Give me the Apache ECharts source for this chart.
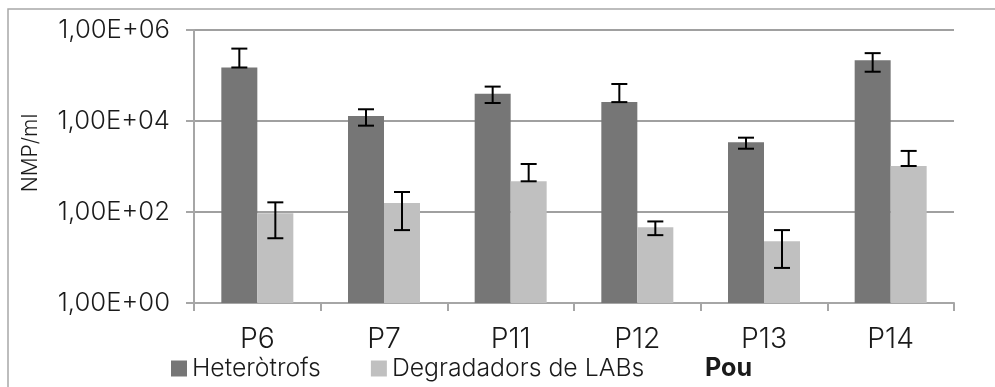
<!DOCTYPE html>
<html><head><meta charset="utf-8">
<script src="https://cdn.jsdelivr.net/npm/echarts@6/dist/echarts.min.js"></script>
<style>html,body{margin:0;padding:0;background:#fff}#c{width:995px;height:387px}</style>
</head><body><div id="c"></div>
<script>
const categories = ['P6','P7','P11','P12','P13','P14'];
const seriesNames = ['Heteròtrofs','Degradadors de LABs'];
const hetValues = [150000, 12900, 39800, 26000, 3400, 216000];
const hetErrHigh = [390000, 18100, 57000, 65000, 4300, 310000];
const hetErrLow = [150000, 7900, 24900, 26000, 2460, 121000];
const degValues = [94, 158, 473, 46, 22.7, 1025];
const degErrHigh = [163, 275, 1135, 62, 40, 2200];
const degErrLow = [26.5, 40, 473, 31, 5.9, 1025];
const yTicks = [1, 100, 10000, 1000000];
const yTickLabels = ['1,00E+00','1,00E+02','1,00E+04','1,00E+06'];
const yName = 'NMP/ml';
const xName = 'Pou';

const FONT = 'Inter';
const W = 300;
const mctx = document.createElement('canvas').getContext('2d');
function fit(text, target, weight) {
  mctx.font = weight + ' 100px "' + FONT + '"';
  return Math.round(100 * target / mctx.measureText(text).width * 10) / 10;
}
const fsY = fit('1,00E+06', 112, W);
const fsX = fit('P11', 40, W);
const fsL = fit('Degradadors de LABs', 252, W);
const fsP = fit('Pou', 47, 'bold');
const fsN = 21;
const TXT = '#1a1a1a';

const BAR_W = 36;
const chart = echarts.init(document.getElementById('c'), null, {renderer:'canvas'});

function errSeries(values, lows, highs, side) {
  return {
    type: 'custom',
    z: 10,
    silent: true,
    data: values.map((v,i)=>[i, lows[i], highs[i]]),
    renderItem: function(params, api) {
      const i = api.value(0);
      const pLo = api.coord([i, api.value(1)]);
      const pHi = api.coord([i, api.value(2)]);
      const x = pLo[0] + side * BAR_W / 2;
      const cap = 8;
      const st = {stroke:'#000', lineWidth:2};
      return {type:'group', children:[
        {type:'line', shape:{x1:x,y1:pLo[1],x2:x,y2:pHi[1]}, style:st},
        {type:'line', shape:{x1:x-cap,y1:pLo[1],x2:x+cap,y2:pLo[1]}, style:st},
        {type:'line', shape:{x1:x-cap,y1:pHi[1],x2:x+cap,y2:pHi[1]}, style:st}
      ]};
    }
  };
}

chart.setOption({
  animation:false,
  textStyle:{fontFamily:FONT, fontWeight:W},
  grid:{left:194, right:41, top:30, bottom:84},
  legend:{
    data:seriesNames, left:166, top:351, icon:'rect', itemWidth:16, itemHeight:16,
    itemGap:50, textStyle:{fontSize:fsL, color:TXT, fontFamily:FONT, fontWeight:W}
  },
  xAxis:{
    type:'category', data:categories,
    axisLine:{lineStyle:{color:'#a6a6a6', width:2}},
    axisTick:{show:true, length:8, lineStyle:{color:'#a6a6a6', width:2}},
    axisLabel:{fontSize:fsX, color:TXT, fontWeight:W, margin:22}
  },
  yAxis:{
    type:'log', logBase:10, min:1, max:1000000, interval:2,
    axisLine:{show:true, lineStyle:{color:'#a6a6a6', width:2}},
    axisTick:{show:true, length:8, lineStyle:{color:'#a6a6a6', width:2}},
    splitLine:{lineStyle:{color:'#a0a0a0', width:2}},
    axisLabel:{fontSize:fsY, color:TXT, fontWeight:W, margin:24, formatter:function(v){
      const idx = yTicks.findIndex(t=>Math.abs(Math.log10(t)-Math.log10(v))<1e-6);
      return idx>=0 ? yTickLabels[idx] : '';
    }}
  },
  graphic:[
    {type:'rect', shape:{x:8,y:9,width:1000,height:400}, style:{fill:'none', stroke:'#a8a8a8', lineWidth:1.5}, silent:true},
    {type:'text', x:31, y:153, rotation:Math.PI/2, style:{text:yName, fontSize:fsN, fontFamily:FONT, fontWeight:W, fill:TXT, align:'center', verticalAlign:'middle'}},
    {type:'text', x:705, y:368, style:{text:xName, fontSize:fsP, fontFamily:FONT, fontWeight:'bold', fill:TXT, align:'left', verticalAlign:'middle'}}
  ],
  series:[
    {name:seriesNames[0], type:'bar', data:hetValues, barWidth:BAR_W, barGap:'0%', itemStyle:{color:'#767676'}},
    {name:seriesNames[1], type:'bar', data:degValues, barWidth:BAR_W, barGap:'0%', itemStyle:{color:'#c0c0c0'}},
    errSeries(hetValues, hetErrLow, hetErrHigh, -1),
    errSeries(degValues, degErrLow, degErrHigh, 1)
  ]
});
</script></body></html>
